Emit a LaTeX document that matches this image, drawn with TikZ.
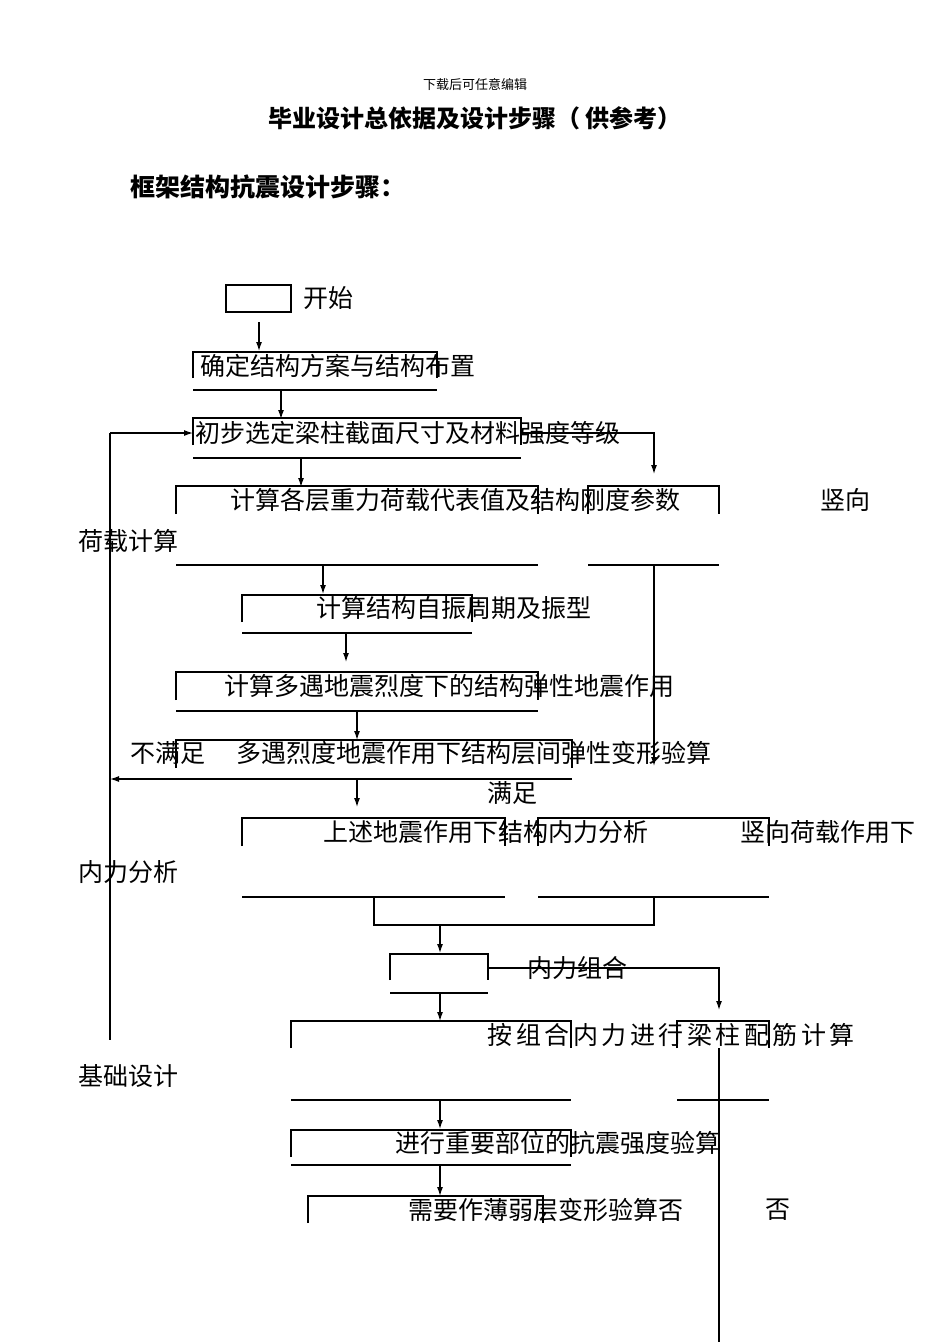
\documentclass[tikz,border=0pt]{standalone}
\usepackage{fontspec}
\setmainfont{Noto Sans CJK SC}
\usetikzlibrary{arrows.meta}
\begin{document}
\begin{tikzpicture}[x=1pt,y=-1pt,line width=1.2pt,
  arr/.style={-{Latex[length=9pt,width=6pt]}},
  txt/.style={anchor=west,inner sep=0pt,font=\fontsize{25}{25}\selectfont}]
\useasboundingbox[fill=white] (0,0) rectangle (950,1342);
\newcommand\obox[5]{% x1,x2,top,bottom,sideheight
  \draw (#1,#3+#5) -- (#1,#3) -- (#2,#3) -- (#2,#3+#5);
  \draw (#1,#4) -- (#2,#4);}
% header
\node[inner sep=0pt,font=\fontsize{13}{13}\selectfont] (hd) at (475,85) {下载后可任意编辑};
\node[inner sep=0pt,font=\fontsize{24}{24}\selectfont\bfseries] (tt) at (475,118) {毕业设计总依据及设计步骤（ 供参考）};
\node[anchor=west,inner sep=0pt,font=\fontsize{25}{25}\selectfont\bfseries] (sub) at (130,187) {框架结构抗震设计步骤：};
% start
\draw (226,285) rectangle (291,312);
\node[txt] (t0) at (303,298) {开始};
\draw[arr] (259,322) -- (259,351);
% box2
\obox{193}{437}{352}{390}{26}
\node[txt] (t1) at (200,366) {确定结构方案与结构布置};
\draw[arr] (281,390) -- (281,419);
% box3
\obox{193}{521}{418}{458}{27}
\node[txt] (t2) at (195,433) {初步选定梁柱截面尺寸及材料强度等级};
\draw[arr] (110,433) -- (193,433);
\draw[arr] (521,433) -- (654,433) -- (654,474);
\draw[arr] (301,458) -- (301,487);
% box4
\obox{176}{538}{486}{565}{28}
\obox{588}{719}{486}{565}{28}
\node[txt] (t3) at (230,500) {计算各层重力荷载代表值及结构刚度参数};
\node[txt] (t3b) at (820,500) {竖向};
\node[txt] (t3c) at (78,541) {荷载计算};
\draw[arr] (654,565) -- (654,766);
\draw[arr] (323,565) -- (323,594);
% box5
\obox{242}{472}{595}{633}{27}
\node[txt] (t4) at (316,608) {计算结构自振周期及振型};
\draw[arr] (346,633) -- (346,662);
% box6
\obox{176}{538}{672}{711}{28}
\node[txt] (t5) at (224,686) {计算多遇地震烈度下的结构弹性地震作用};
\draw[arr] (357,711) -- (357,740);
% box7
\draw (176,768) -- (176,740) -- (572,740) -- (572,768);
\node[txt] (t6a) at (130,753) {不满足};
\node[txt] (t6) at (236,753) {多遇烈度地震作用下结构层间弹性变形验算};
\draw[arr] (572,779) -- (110,779);
\draw (110,433) -- (110,1040);
\draw[arr] (357,779) -- (357,807);
\node[txt] (t6b) at (487,793) {满足};
% box8/9
\obox{242}{505}{818}{897}{28}
\obox{538}{769}{818}{897}{28}
\node[txt] (t7) at (323,832) {上述地震作用下结构内力分析};
\node[txt] (t7b) at (740,832) {竖向荷载作用下};
\node[txt] (t7c) at (78,872) {内力分析};
\draw (374,897) -- (374,925) -- (654,925) -- (654,897);
\draw[arr] (440,925) -- (440,953);
% box10
\obox{390}{488}{954}{993}{26}
\node[txt] (t8) at (527,968) {内力组合};
\draw[arr] (488,968) -- (719,968) -- (719,1010);
\draw[arr] (440,993) -- (440,1021);
% box11/12
\obox{291}{571}{1021}{1100}{27}
\obox{677}{769}{1021}{1100}{27}
\node[txt] (t9) at (487,1035) {\addfontfeature{LetterSpace=14}按组合内力进行梁柱配筋计算};
\node[txt] (t9b) at (78,1076) {基础设计};
\draw (719,1048) -- (719,1342);
\draw[arr] (440,1100) -- (440,1129);
% box13
\obox{291}{571}{1130}{1165}{27}
\node[txt] (t10) at (395,1143) {进行重要部位的抗震强度验算};
\draw[arr] (440,1165) -- (440,1196);
% box14
\draw (308,1223) -- (308,1196) -- (543,1196) -- (543,1223);
\node[txt] (t11) at (408,1210) {需要作薄弱层变形验算否};
\node[txt] (t11b) at (765,1210) {否};
\end{tikzpicture}
\end{document}
